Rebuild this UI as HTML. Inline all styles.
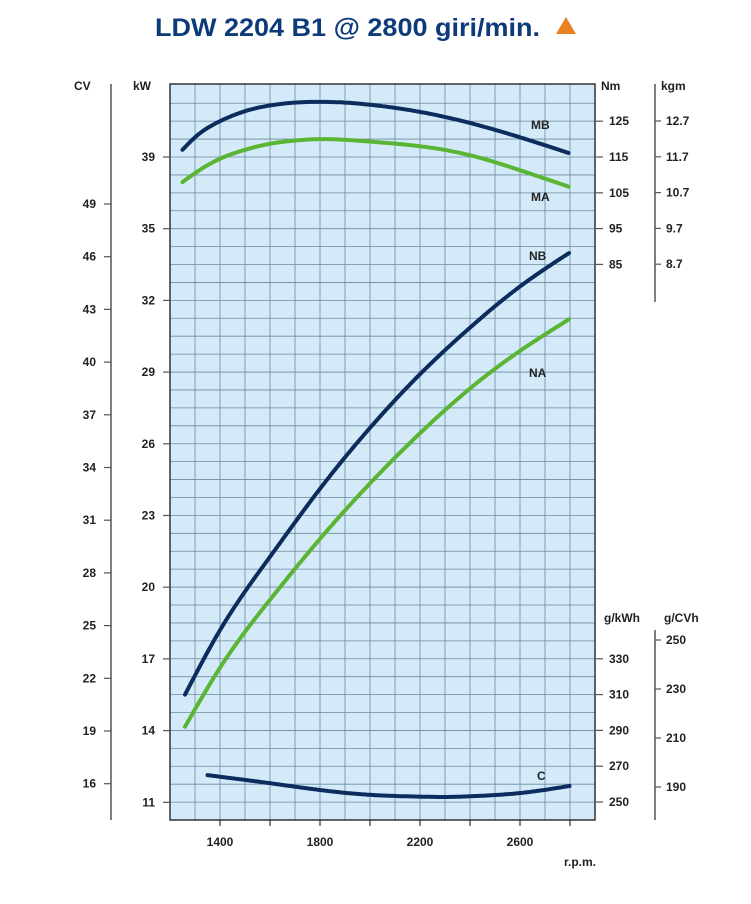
<!DOCTYPE html>
<html><head><meta charset="utf-8">
<style>
body{margin:0;background:#fff;width:751px;height:899px;overflow:hidden;font-family:"Liberation Sans",sans-serif;}
svg text{font-family:"Liberation Sans",sans-serif;font-weight:bold;fill:#222;font-size:12px}
</style></head>
<body>
<svg width="751" height="899">
<text x="155" y="36" textLength="385" lengthAdjust="spacingAndGlyphs" style="font-size:25px;fill:#0d3a78">LDW 2204 B1 @ 2800 giri/min.</text>
<polygon points="556,34 576,34 566,17" fill="#e8821e"/>
<rect x="170" y="84" width="425" height="736" fill="#d4eaf8"/>
<g id="grid"></g>
<rect x="170" y="84" width="425" height="736" fill="none" stroke="#333" stroke-width="1.5"/>
<g id="axes"></g>
<g id="curves"></g>
</svg>
<script>
const rpmTicks=[1400,1800,2200,2600];
const cvTicks=[49,46,43,40,37,34,31,28,25,22,19,16];
const kwTicks=[39,35,32,29,26,23,20,17,14,11];
const nmTicks=[125,115,105,95,85];
const kgmTicks=["12.7","11.7","10.7","9.7","8.7"];
const gkwhTicks=[330,310,290,270,250];
const gcvhTicks=[250,230,210,190];
const rpmMB=[1250,1300,1400,1500,1600,1700,1800,1900,2000,2200,2400,2600,2800];
const torqueMB=[117,120.5,125,127.8,129.4,130.2,130.4,130.2,129.6,127.6,124.5,120.5,116];
const rpmMA=[1250,1300,1400,1500,1600,1700,1800,1900,2000,2200,2400,2600,2800];
const torqueMA=[108,110.5,114.5,117,118.7,119.6,120,119.8,119.3,118,115.5,111.3,106.6];
const rpmN=[1260,1400,1600,1800,2000,2200,2400,2600,2800];
const powerNB=[17.0,20.6,24.7,28.5,31.9,34.9,37.5,39.8,41.7];
const powerNA=[15.2,18.5,22.3,25.7,28.8,31.6,34.1,36.2,38.0];
const rpmC=[1350,1600,1800,2000,2200,2300,2400,2600,2800];
const consC=[265,260.5,256.7,254,253,252.8,253.2,255,259];

const NS='http://www.w3.org/2000/svg';
const xS=r=>220+(r-1400)*0.25;
const yKW=v=>802-(v-11)*17.9;
const yNm=v=>157-(v-115)*3.58;
const yG=v=>802-(v-250)*1.79;
function mk(tag,attrs,parent,txt){const e=document.createElementNS(NS,tag);for(const k in attrs)e.setAttribute(k,attrs[k]);if(txt!==undefined)e.textContent=txt;parent.appendChild(e);return e;}
const grid=document.getElementById('grid'),axes=document.getElementById('axes'),curves=document.getElementById('curves');
for(let r=1300;r<=2800;r+=100){const l=mk('line',{x1:xS(r),x2:xS(r),y1:84,y2:820,stroke:'#6a8aa0','stroke-width':0.8},grid);

}
for(let k=-3;k<=36;k++){const y=157+k*17.92;if(y<=85||y>=819)continue;const l=mk('line',{x1:170,x2:595,y1:y,y2:y,stroke:'#6a8aa0','stroke-width':0.8},grid);

}
for(let r=1400;r<=2800;r+=200){mk('line',{x1:xS(r),x2:xS(r),y1:820,y2:826,stroke:'#333','stroke-width':1.2},axes);}
rpmTicks.forEach(r=>{const t=mk('text',{x:xS(r),y:846,'text-anchor':'middle'},axes,r);

});
let t=mk('text',{x:596,y:866,'text-anchor':'end','font-size':11},axes,'r.p.m.');


mk('line',{x1:111,x2:111,y1:84,y2:820,stroke:'#555','stroke-width':1.5},axes);
t=mk('text',{x:74,y:90},axes,'CV');


cvTicks.forEach((v,i)=>{const y=204+i*52.7;mk('line',{x1:104,x2:111,y1:y,y2:y,stroke:'#555','stroke-width':1.2},axes);
const e=mk('text',{x:96,y:y+4,'text-anchor':'end'},axes,v);

});
t=mk('text',{x:133,y:90},axes,'kW');


kwTicks.forEach((v,i)=>{const y=157+i*71.7;mk('line',{x1:163,x2:170,y1:y,y2:y,stroke:'#555','stroke-width':1.2},axes);
const e=mk('text',{x:155,y:y+4,'text-anchor':'end'},axes,v);

});
t=mk('text',{x:601,y:90},axes,'Nm');


nmTicks.forEach(v=>{const y=yNm(v);mk('line',{x1:596,x2:603,y1:y,y2:y,stroke:'#555','stroke-width':1.2},axes);
const e=mk('text',{x:609,y:y+4},axes,v);

});
mk('line',{x1:655,x2:655,y1:84,y2:302,stroke:'#555','stroke-width':1.5},axes);
t=mk('text',{x:661,y:90},axes,'kgm');


kgmTicks.forEach((v,i)=>{const y=121+i*35.8;mk('line',{x1:655,x2:661,y1:y,y2:y,stroke:'#555','stroke-width':1.2},axes);
const e=mk('text',{x:666,y:y+4},axes,v);

});
t=mk('text',{x:604,y:622},axes,'g/kWh');


gkwhTicks.forEach(v=>{const y=yG(v);mk('line',{x1:596,x2:603,y1:y,y2:y,stroke:'#555','stroke-width':1.2},axes);
const e=mk('text',{x:609,y:y+4},axes,v);

});
mk('line',{x1:655,x2:655,y1:630,y2:820,stroke:'#555','stroke-width':1.5},axes);
t=mk('text',{x:664,y:622},axes,'g/CVh');


gcvhTicks.forEach((v,i)=>{const y=640+i*49;mk('line',{x1:655,x2:661,y1:y,y2:y,stroke:'#555','stroke-width':1.2},axes);
const e=mk('text',{x:666,y:y+4},axes,v);

});
function spline(xs,ys){const n=xs.length,h=[],a=[],l=[1],mu=[0],z=[0],c=new Array(n).fill(0),b=[],d=[];
for(let i=0;i<n-1;i++)h[i]=xs[i+1]-xs[i];
for(let i=1;i<n-1;i++)a[i]=3/h[i]*(ys[i+1]-ys[i])-3/h[i-1]*(ys[i]-ys[i-1]);
for(let i=1;i<n-1;i++){l[i]=2*(xs[i+1]-xs[i-1])-h[i-1]*mu[i-1];mu[i]=h[i]/l[i];z[i]=(a[i]-h[i-1]*z[i-1])/l[i];}
l[n-1]=1;z[n-1]=0;
for(let j=n-2;j>=0;j--){c[j]=z[j]-mu[j]*c[j+1];b[j]=(ys[j+1]-ys[j])/h[j]-h[j]*(c[j+1]+2*c[j])/3;d[j]=(c[j+1]-c[j])/(3*h[j]);}
return x=>{let j=0;while(j<n-2&&x>xs[j+1])j++;const dx=x-xs[j];return ys[j]+b[j]*dx+c[j]*dx*dx+d[j]*dx*dx*dx;};}
function curve(xs,ys,col,name){const f=spline(xs,ys);let d='';const x0=xs[0],x1=xs[xs.length-1];
for(let x=x0;x<=x1+0.01;x+=2){const xx=Math.min(x,x1);d+=(d?'L':'M')+xx.toFixed(1)+','+f(xx).toFixed(1);}
const e=mk('path',{d:d,fill:'none',stroke:col,'stroke-width':4,'stroke-linecap':'round','stroke-linejoin':'round'},curves);

}
const navy='#0b2c5c',green='#5bb534';
curve(rpmMB.map(xS),torqueMB.map(yNm),navy,'curve-mb');
curve(rpmMA.map(xS),torqueMA.map(yNm),green,'curve-ma');
curve(rpmN.map(xS),powerNB.map(yKW),navy,'curve-nb');
curve(rpmN.map(xS),powerNA.map(yKW),green,'curve-na');
curve(rpmC.map(xS),consC.map(yG),navy,'curve-c');
[['MB',531,129,12],['MA',531,201,12],['NB',529,260,14],['NA',529,377,14],['C',537,780,14]].forEach(a=>{
const e=mk('text',{x:a[1],y:a[2],'font-size':a[3]},curves,a[0]);

});
</script>
</body></html>
